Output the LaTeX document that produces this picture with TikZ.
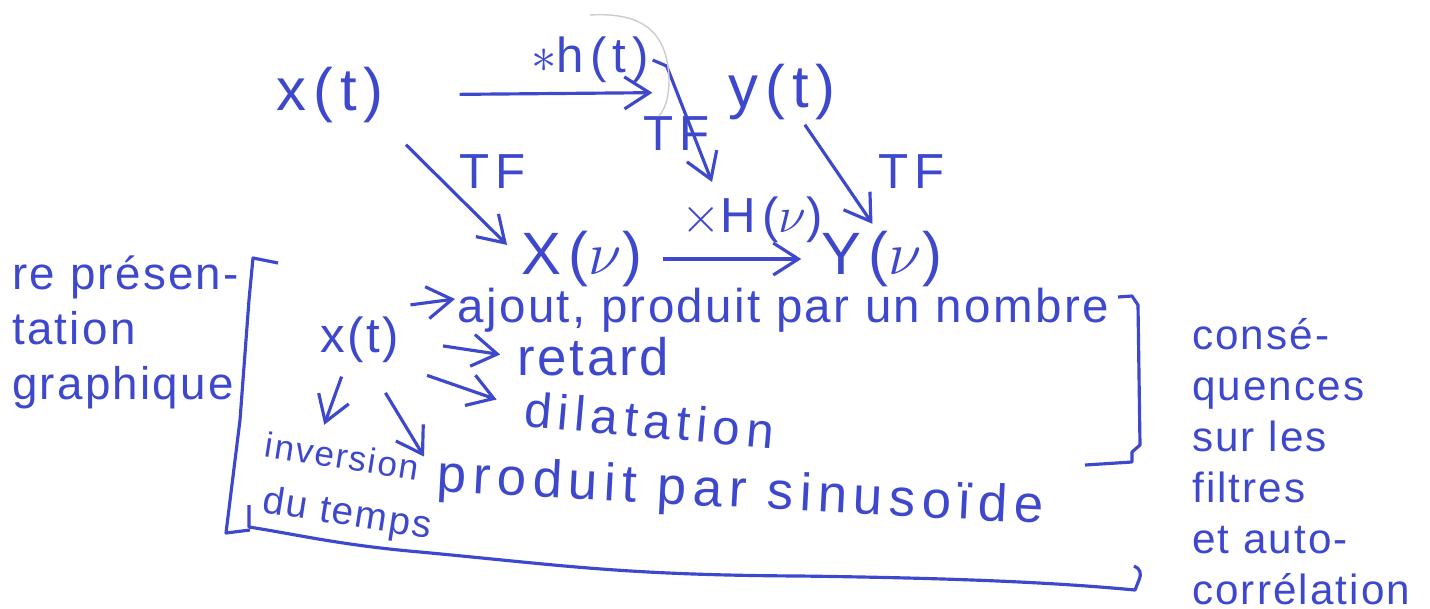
\documentclass[tikz,border=0pt]{standalone}
\usepackage{fontspec}
\setmainfont{Liberation Sans}
\newfontfamily\hand[LetterSpace=5]{Liberation Sans}
\newfontfamily\handw[LetterSpace=12]{Liberation Sans}
\usepackage{tikz}
\usetikzlibrary{arrows.meta,positioning}
\definecolor{ink}{RGB}{62,72,205}

\begin{document}
\begin{tikzpicture}[
  x=0.01cm, y=-0.01cm,
  every node/.style={font=\hand\fontsize{14}{16}\selectfont, text=ink, inner sep=1pt},
  big/.style={font=\handw\fontsize{17}{19}\selectfont, inner sep=0pt},
  wide/.style={font=\handw\fontsize{14}{16}\selectfont},
  edge/.style={-{Straight Barb[length=2.5mm,width=3.2mm]}, ink, line width=0.9pt},
  brace/.style={ink, line width=0.9pt, line join=round},
]
  \useasboundingbox (0,0) rectangle (1430,608);

  \node[big] (xt) at (330,95)  {x(t)};
  \node[big] (yt) at (782,92)  {y(t)};
  \node[big] (Xn) at (582,259) {X($\nu$)};
  \node[big] (Yn) at (882,259) {Y($\nu$)};
  \node[wide] (ht) at (590,60)  {$\ast$h(t)};
  \node[wide] (Hn) at (752,220) {$\times$H($\nu$)};
  \node[wide] (tf1) at (493,172) {TF};
  \node[wide] (tf2) at (677,134) {TF};
  \node[wide] (tf3) at (912,172) {TF};
  \coordinate (hend) at (712,182);

  \draw[edge, shorten <=7.5mm, shorten >=7.5mm] (xt.east) -- (yt.west);
  \draw[edge] (ht.east) -- ++(14,6) -- (hend);
  \draw[edge, shorten <=3mm, shorten >=2mm] (xt.south east) -- (Xn.west);
  \draw[edge, shorten <=2mm, shorten >=2mm] (Xn.east) -- (Yn.west);
  \draw[edge, shorten <=0.5mm, shorten >=0.8mm] ([xshift=2mm]yt.south) -- ([xshift=-0.5mm]Yn.north);

  \draw[gray!40, line width=0.4pt] (590,15) .. controls (640,12) and (668,30) .. (669,80) .. controls (669,100) and (664,110) .. (659,116);

  \node[anchor=north west, align=left, font=\hand\fontsize{13}{15.6}\selectfont] (rep) at (8,252)
    {re présen-\\tation\\graphique};
  \node[anchor=north west, align=left, font=\hand\fontsize{12}{14.5}\selectfont] (cons) at (1188,314)
    {consé-\\quences\\sur les\\filtres\\et auto-\\corrélation};

  \node (xi) at (360,340) {x(t)};
  \node[anchor=west, inner sep=0pt, font=\hand\fontsize{13.5}{16}\selectfont] (aj) at (457,310) {ajout, produit par un nombre};
  \node[anchor=west, inner sep=0pt, font=\hand\fontsize{15}{17}\selectfont] (rt) at (517,357) {retard};
  \node[anchor=west, inner sep=0pt, rotate=-5, wide] (dl) at (524,409) {dilatation};
  \node[anchor=west, inner sep=0pt, rotate=-9, font=\hand\fontsize{10}{12}\selectfont] (iv) at (265,444) {inversion};
  \node[anchor=west, inner sep=0pt, rotate=-9, font=\hand\fontsize{11}{13}\selectfont] (dt) at (262,502) {du temps};
  \node[anchor=west, inner sep=0pt, rotate=-3, font=\handw\fontsize{15}{17}\selectfont] (ps) at (437,478) {produit par sinusoïde};

  \draw[edge] ([xshift=0.7mm,yshift=0.8mm]xi.north east) -- ([xshift=-0.2mm,yshift=1.1mm]aj.west);
  \draw[edge, shorten <=4mm, shorten >=1.7mm] (xi.east) -- (rt.west);
  \draw[edge, shorten <=2.5mm, shorten >=2.9mm] (xi.south east) -- (dl.west);
  \draw[edge, shorten <=1mm] ([xshift=-1.5mm]xi.south) -- ([xshift=-2mm,yshift=1.8mm]iv.north);
  \draw[edge, shorten <=3mm, shorten >=2.5mm] (xi.290) -- (ps.west);

  \draw[brace] (278,263) -- (253,258) -- (249,300) -- (240,420) -- (226,533) -- (250,530);
  \draw[brace] (249,505) -- (249,527) .. controls (300,535) and (340,545) .. (420,552)
    .. controls (560,565) and (620,575) .. (800,576)
    .. controls (950,578) and (1050,582) .. (1135,590) -- (1139,580) .. controls (1142,574) and (1140,568) .. (1134,566);
  \draw[brace] (1118,297) -- (1132,296) -- (1138,305) -- (1140,445) -- (1132,452) -- (1132,462) -- (1085,465);
\end{tikzpicture}
\end{document}
